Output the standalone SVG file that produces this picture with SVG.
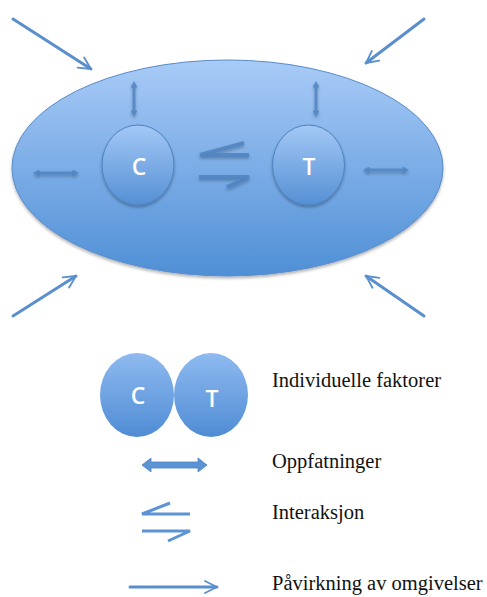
<svg xmlns="http://www.w3.org/2000/svg" width="487" height="597" viewBox="0 0 487 597">
<style>
.lbl{font-family:"Liberation Serif","Times New Roman",serif;font-size:20.5px;fill:#111}
.ct{font-family:"Open Sans","Liberation Sans",sans-serif;font-size:23px;font-weight:600;fill:#fff;text-anchor:middle}
.big{stroke:#5a8fcd;stroke-width:3;fill:none;stroke-linecap:round}
.small{stroke:#4d82c0;stroke-width:3;fill:none;stroke-linecap:round;opacity:0.8}
.inter{stroke:#4d80bd;stroke-width:4;fill:none;stroke-linecap:butt;opacity:0.8}
</style>
<defs>
<linearGradient id="gE" x1="0" y1="0" x2="0" y2="1">
<stop offset="0" stop-color="#a8cbf7"/>
<stop offset="1" stop-color="#4f8fd6"/>
</linearGradient>
<linearGradient id="gC" x1="0" y1="0" x2="0" y2="1">
<stop offset="0" stop-color="#a3c8f6"/>
<stop offset="1" stop-color="#5590d4"/>
</linearGradient>
<linearGradient id="gL" x1="0" y1="0" x2="0" y2="1">
<stop offset="0" stop-color="#8fbaf0"/>
<stop offset="1" stop-color="#4f8cd4"/>
</linearGradient>
<filter id="sh" x="-10%" y="-10%" width="120%" height="130%">
<feDropShadow dx="0" dy="2" stdDeviation="1.5" flood-color="#000" flood-opacity="0.3"/>
</filter>
<marker id="ah" viewBox="0 0 10 10" refX="9" refY="5" markerWidth="5" markerHeight="5" orient="auto" markerUnits="strokeWidth">
<path d="M1,1 L9,5 L1,9" fill="none" stroke="#5a8fcd" stroke-width="1.2" stroke-linecap="round" stroke-linejoin="round"/>
</marker>
</defs>

<g id="environment">
<ellipse cx="227.5" cy="168" rx="215.5" ry="108" fill="url(#gE)" stroke="#5a8cc9" stroke-width="1" filter="url(#sh)"/>
</g>

<g id="node-C">
<ellipse cx="138" cy="165" rx="36" ry="40" fill="url(#gC)" stroke="#4d82c0" stroke-width="1" filter="url(#sh)"/>
<text class="ct" x="139" y="175">C</text>
</g>
<g id="node-T">
<ellipse cx="308.5" cy="165" rx="36" ry="40" fill="url(#gC)" stroke="#4d82c0" stroke-width="1" filter="url(#sh)"/>
<text class="ct" x="309" y="175">T</text>
</g>

<g id="connectors">
<line class="big" x1="13" y1="19" x2="91" y2="69" marker-end="url(#ah)"/>
<line class="big" x1="424" y1="19" x2="366" y2="63" marker-end="url(#ah)"/>
<line class="big" x1="13" y1="316" x2="76" y2="276" marker-end="url(#ah)"/>
<line class="big" x1="424" y1="316" x2="366" y2="276" marker-end="url(#ah)"/>
<g filter="url(#sh)">
<path d="M134,84 L134,114 M132.5,86.5 L134,84 L135.5,86.5 M132.5,111.5 L134,114 L135.5,111.5" class="small"/>
<path d="M316,84 L316,114 M314.5,86.5 L316,84 L317.5,86.5 M314.5,111.5 L316,114 L317.5,111.5" class="small"/>
<path d="M36,173 L76,173 M38.5,171.5 L36,173 L38.5,174.5 M73.5,171.5 L76,173 L73.5,174.5" class="small"/>
<path d="M366,170 L406,170 M368.5,168.5 L366,170 L368.5,171.5 M403.5,168.5 L406,170 L403.5,171.5" class="small"/>
</g>
<g filter="url(#sh)">
<path class="inter" d="M249,155 L200,155 L244,143"/>
<path class="inter" d="M199,177 L249,177 L227,187"/>
</g>
</g>

<g id="legend-CT">
<ellipse cx="137" cy="395" rx="37" ry="42" fill="url(#gL)"/>
<ellipse cx="211" cy="395" rx="37" ry="42" fill="url(#gL)"/>
<text class="ct" x="138" y="404">C</text>
<text class="ct" x="212" y="407">T</text>
<text class="lbl" x="272" y="387">Individuelle faktorer</text>
</g>

<g id="legend-perception">
<path d="M142,465 L151,458 L151,462 L198,462 L198,458 L207,465 L198,472 L198,468 L151,468 L151,472 Z" fill="#5b93d5" stroke="#4d82c0" stroke-width="0.8"/>
<text class="lbl" x="272" y="468">Oppfatninger</text>
</g>

<g id="legend-interaction">
<path d="M190,514 L142,514 L170,503" stroke="#5b93d5" stroke-width="3" fill="none"/>
<path d="M142,531 L190,531 L168,541" stroke="#5b93d5" stroke-width="3" fill="none"/>
<text class="lbl" x="272" y="519">Interaksjon</text>
</g>

<g id="legend-influence">
<line class="big" x1="130" y1="587" x2="217" y2="587" marker-end="url(#ah)"/>
<text class="lbl" x="272" y="590">Påvirkning av omgivelser</text>
</g>
</svg>
